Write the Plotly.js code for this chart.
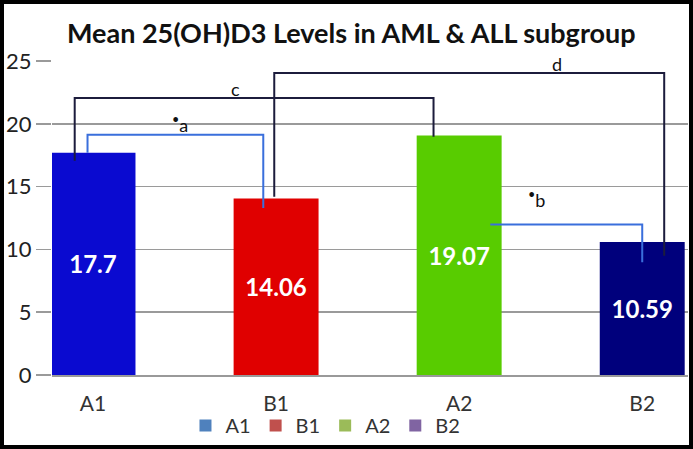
<!DOCTYPE html>
<html>
<head>
<meta charset="utf-8">
<script src="https://cdn.plot.ly/plotly-3.0.1.min.js"></script>
<style>
html,body{margin:0;padding:0;background:#000;}
#chart{width:685px;height:441px;border:4px solid #000;background:#fff;}
</style>
</head>
<body>
<div id="chart"></div>
<script>
// ---- data ----
const categories = ["A1", "B1", "A2", "B2"];
const values = [17.7, 14.06, 19.07, 10.59];
const barColors = ["#0a0ad0", "#e00000", "#58cc00", "#00007c"];
const legendColors = ["#4f81bd", "#c0504d", "#9bbb59", "#8064a2"];
const yTicks = [0, 5, 10, 15, 20, 25];

// significance brackets (x positions in category units, y in data units)
const bracketLabels = ["<sup>•</sup>a", "c", "d", "<sup>•</sup>b"];
const bracketX0 = [-0.03, -0.10, 0.99, 2.17];
const bracketX1 = [0.93, 1.86, 3.12, 3.00];
const bracketTop = [19.13, 22.06, 24.05, 11.98];
const bracketLeftBottom = [17.7, 17.06, 14.2, 11.98];
const bracketRightBottom = [13.3, 18.97, 9.5, 8.97];
const bracketColors = ["#3a6fdc", "#1c1c3c", "#1c1c3c", "#3a6fdc"];
const labelX = [0.475, 0.776, 2.535, 2.42];
const labelY = [19.95, 22.75, 24.75, 14.05];

const FONT = "Lato, 'Open Sans', sans-serif";
const xIdx = categories.map((c, i) => i);

const traces = [{
  type: "bar",
  x: xIdx,
  y: values,
  marker: {color: barColors},
  text: values.map(v => String(v)),
  textposition: "inside",
  insidetextanchor: "middle",
  textangle: 0,
  constraintext: "none",
  textfont: {color: "#ffffff", size: 24, family: FONT, weight: "bold"},
  showlegend: false,
  hoverinfo: "skip"
}];
categories.forEach((c, i) => {
  traces.push({
    type: "bar", x: [null], y: [null], name: c,
    marker: {color: legendColors[i]}, showlegend: true, hoverinfo: "skip"
  });
});

const shapes = bracketX0.map((x0, i) => ({
  type: "path", xref: "x", yref: "y",
  path: `M ${x0},${bracketLeftBottom[i]} L ${x0},${bracketTop[i]} L ${bracketX1[i]},${bracketTop[i]} L ${bracketX1[i]},${bracketRightBottom[i]}`,
  line: {color: bracketColors[i], width: 2}
}));

const annotations = bracketLabels.map((t, i) => ({
  x: labelX[i], y: labelY[i], xref: "x", yref: "y",
  text: t, showarrow: false,
  font: {size: 18, color: "#111", family: FONT}
}));

const layout = {
  width: 685, height: 441,
  margin: {l: 48, r: 1, t: 57, b: 69},
  paper_bgcolor: "#ffffff", plot_bgcolor: "#ffffff",
  font: {family: FONT, color: "#222"},
  title: {
    text: "<b>Mean 25(OH)D3 Levels in AML &amp; ALL subgroup</b>",
    font: {size: 27, color: "#111", family: FONT},
    xref: "container", x: 0.507, xanchor: "center",
    yref: "container", y: 0.932, yanchor: "middle"
  },
  barmode: "overlay",
  bargap: 0.536,
  xaxis: {
    type: "linear", range: [-0.224, 3.25],
    tickvals: xIdx, ticktext: categories,
    showgrid: false, zeroline: false,
    showline: true, linecolor: "#999", linewidth: 2,
    ticks: "outside", ticklen: 9, tickcolor: "rgba(0,0,0,0)",
    tickfont: {size: 21, color: "#333", family: FONT},
    fixedrange: true
  },
  yaxis: {
    range: [0, 25], tickvals: yTicks,
    showgrid: true, gridcolor: "#9a9a9a", gridwidth: 1.6,
    zeroline: false, showline: false,
    ticks: "outside", ticklen: 15, tickcolor: "#9a9a9a", tickwidth: 1.6,
    tickfont: {size: 22, color: "#222", family: FONT},
    fixedrange: true
  },
  legend: {
    orientation: "h", x: 0.43, xanchor: "center", y: -0.158, yanchor: "middle",
    bgcolor: "rgba(0,0,0,0)",
    font: {size: 20, color: "#333", family: FONT},
    itemwidth: 30, traceorder: "normal", tracegroupgap: 0
  },
  shapes: shapes,
  annotations: annotations
};

Plotly.newPlot("chart", traces, layout, {displayModeBar: false, staticPlot: true});
</script>
</body>
</html>
